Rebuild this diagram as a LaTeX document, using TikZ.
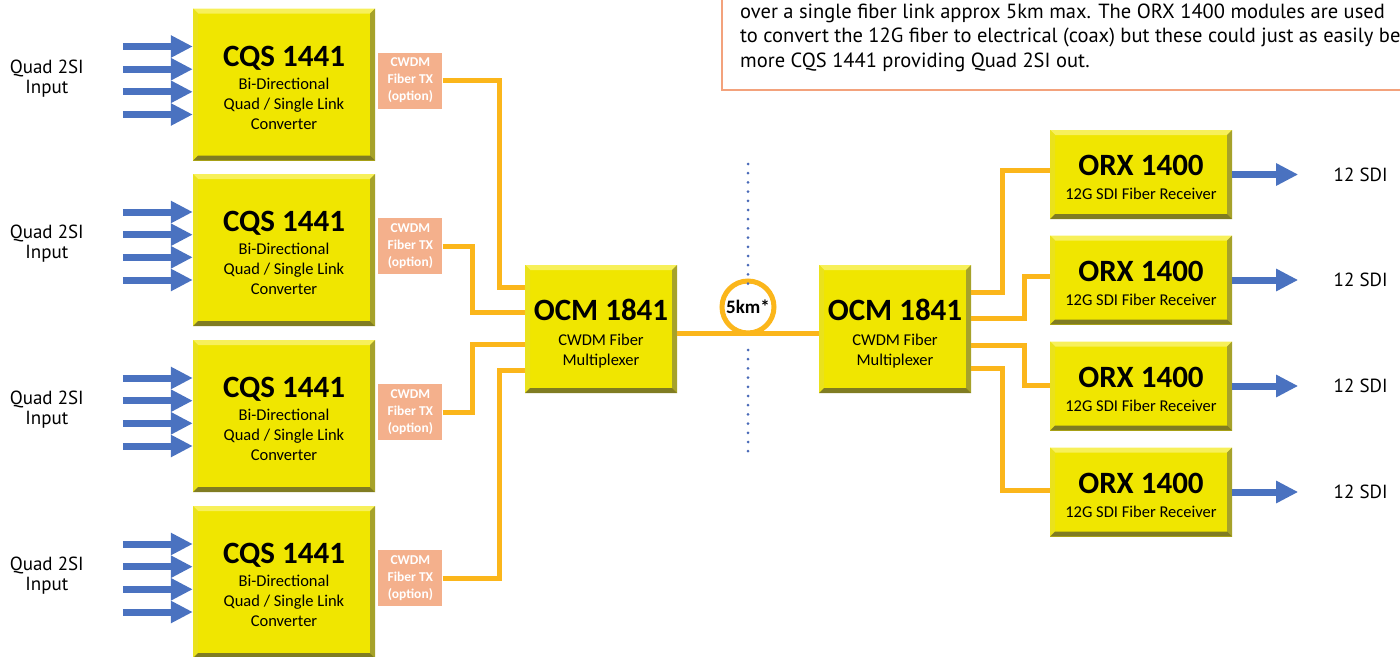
\documentclass[tikz,border=0pt]{standalone}
\usepackage{fontspec}
\setmainfont{PT Sans}
\newfontfamily\blockfont{Carlito}
\usepackage{tikz}
\usetikzlibrary{positioning, arrows.meta, calc}
\definecolor{cFace}     {HTML}{F0E600}
\definecolor{cBevelTop} {HTML}{F7F05A}
\definecolor{cBevelLeft}{HTML}{EAE21C}
\definecolor{cBevelRgt} {HTML}{A6A22A}
\definecolor{cBevelBot} {HTML}{807C22}
\definecolor{cFiber}    {HTML}{FBB61B}
\definecolor{cTx}       {HTML}{F4B08C}
\definecolor{cSdi}      {HTML}{4A72C0}
\definecolor{cDots}     {HTML}{4A6AB8}
\definecolor{cNote}     {HTML}{F3A27C}
\newcommand{\titlef}{\blockfont\bfseries\fontsize{31}{21}\selectfont}
\newcommand{\subf}{\blockfont\fontsize{16.5}{20}\selectfont}

\begin{document}
\begin{tikzpicture}[x=1pt, y=-1pt,
  bevelbox/.style={fill=cFace, inner sep=0pt, align=center, font=\subf,
    path picture={
      \coordinate (pNW) at (path picture bounding box.north west);
      \coordinate (pNE) at (path picture bounding box.north east);
      \coordinate (pSW) at (path picture bounding box.south west);
      \coordinate (pSE) at (path picture bounding box.south east);
      \fill[cBevelTop] (pNW) -- (pNE) -- ([xshift=-5pt,yshift=-5pt]pNE) -- ([xshift=5pt,yshift=-5pt]pNW) -- cycle;
      \fill[cBevelLeft] (pNW) -- ([xshift=5pt,yshift=-5pt]pNW) -- ([xshift=5pt,yshift=5pt]pSW) -- (pSW) -- cycle;
      \fill[cBevelRgt] (pNE) -- (pSE) -- ([xshift=-5pt,yshift=5pt]pSE) -- ([xshift=-5pt,yshift=-5pt]pNE) -- cycle;
      \fill[cBevelBot] (pSW) -- (pSE) -- ([xshift=-5pt,yshift=5pt]pSE) -- ([xshift=5pt,yshift=5pt]pSW) -- cycle;
    }},
  cqsblock/.style={bevelbox, minimum width=182pt, minimum height=152pt},
  ocmblock/.style={bevelbox, minimum width=152pt, minimum height=128pt},
  orxblock/.style={bevelbox, minimum width=182pt, minimum height=89pt},
  txbox/.style={fill=cTx, text=white, inner sep=0pt, align=center,
    minimum width=64pt, minimum height=56pt,
    font=\blockfont\bfseries\fontsize{13.5}{17}\selectfont},
  fiber/.style={draw=cFiber, line width=5pt},
  sdi/.style={draw=cSdi, line width=7pt, -{Triangle[length=22pt, width=21pt]}},
  dotline/.style={draw=cDots, line width=3pt, line cap=round, dash pattern=on 0pt off 9.2pt},
  spool/.style={circle, draw=cFiber, fill=white, line width=5pt, minimum size=52pt, inner sep=0pt,
    font=\blockfont\bfseries\fontsize{19}{19}\selectfont},
  sidelabel/.style={align=center, font=\fontsize{19}{20}\selectfont},
]
\useasboundingbox (0,0) rectangle (1400,656);
\clip (0,0) rectangle (1400,656);

% note box (top right, cut by the page)
\draw[cNote, line width=2.5pt] (722,-60) rectangle (1460,90);
\node[anchor=base west, align=left, inner sep=0pt, font=\fontsize{20.5}{24.5}\selectfont] (note) at (740,67)
  {over a single fiber link approx 5km max. The ORX 1400 modules are used\\
   to convert the 12G fiber to electrical (coax) but these could just as easily be\\
   more CQS 1441 providing Quad 2SI out.};

% quad link converters with fiber tx
\foreach \i/\y in {1/84.5, 2/250, 3/416, 4/582} {
  \node[cqsblock] (cqs\i) at (284,\y)
    {{\titlef\rule{0pt}{27pt}CQS 1441}\\[3pt]Bi-Directional\\Quad / Single Link\\Converter};
  \node[txbox, anchor=west, xshift=3pt, yshift=4pt] (tx\i) at (cqs\i.east) {CWDM\\Fiber TX\\(option)};
  \node[sidelabel] (q\i) at ([xshift=-146pt, yshift=6pt]cqs\i.west) {Quad 2SI\\Input};
  \foreach \dy in {34, 11.3, -11.3, -34} {
    \draw[sdi] ([xshift=-70pt, yshift=\dy pt+4pt]cqs\i.west) -- ([yshift=\dy pt+4pt]cqs\i.west);
  }
}

% multiplexers
\node[ocmblock] (ocmL) at (601,329) {{\titlef\rule{0pt}{30pt}OCM 1841}\\[5pt]CWDM Fiber\\Multiplexer};
\node[ocmblock] (ocmR) at (895,329) {{\titlef\rule{0pt}{30pt}OCM 1841}\\[5pt]CWDM Fiber\\Multiplexer};

\coordinate (inA) at ([yshift=42pt]ocmL.west);
\coordinate (inB) at ([yshift=17pt]ocmL.west);
\coordinate (inC) at ([yshift=-15pt]ocmL.west);
\coordinate (inD) at ([yshift=-41pt]ocmL.west);
\draw[fiber] (tx1.east) -| ([xshift=-25pt]inA) -- (inA);
\draw[fiber] (tx2.east) -| ([xshift=-52pt]inB) -- (inB);
\draw[fiber] (tx3.east) -| ([xshift=-52pt]inC) -- (inC);
\draw[fiber] (tx4.east) -| ([xshift=-25pt]inD) -- (inD);

% 5km link
\draw[fiber] ([yshift=-4pt]ocmL.east) -- ([yshift=-4pt]ocmR.west);
\node[spool] (km) at (748,307) {5km*};
\coordinate (dTopA) at (748,164);
\coordinate (dTopB) at (748,284);
\coordinate (dBotA) at (748,350);
\coordinate (dBotB) at (748,452);
\draw[dotline] (dTopA) -- (dTopB);
\draw[dotline] (dBotA) -- (dBotB);

% receivers
\foreach \i/\y in {1/174.5, 2/280, 3/386, 4/492} {
  \node[orxblock] (orx\i) at (1141,\y) {{\titlef\rule{0pt}{27pt}ORX 1400}\\[4pt]12G SDI Fiber Receiver};
  \coordinate (o\i) at ([xshift=66pt]orx\i.east);
  \draw[sdi] (orx\i.east) -- (o\i);
  \node[sidelabel, anchor=west] (sdi\i) at ([xshift=32pt]o\i) {12 SDI};
}

\coordinate (outA) at ([yshift=37pt]ocmR.east);
\coordinate (outB) at ([yshift=11pt]ocmR.east);
\coordinate (outC) at ([yshift=-16pt]ocmR.east);
\coordinate (outD) at ([yshift=-39pt]ocmR.east);
\draw[fiber] (outA) -| ([xshift=-47pt, yshift=4pt]orx1.west) -- ([yshift=4pt]orx1.west);
\draw[fiber] (outB) -| ([xshift=-25pt, yshift=4pt]orx2.west) -- ([yshift=4pt]orx2.west);
\draw[fiber] (outC) -| ([xshift=-25pt, yshift=1pt]orx3.west) -- ([yshift=1pt]orx3.west);
\draw[fiber] (outD) -| ([xshift=-47pt, yshift=2pt]orx4.west) -- ([yshift=2pt]orx4.west);
\end{tikzpicture}
\end{document}
